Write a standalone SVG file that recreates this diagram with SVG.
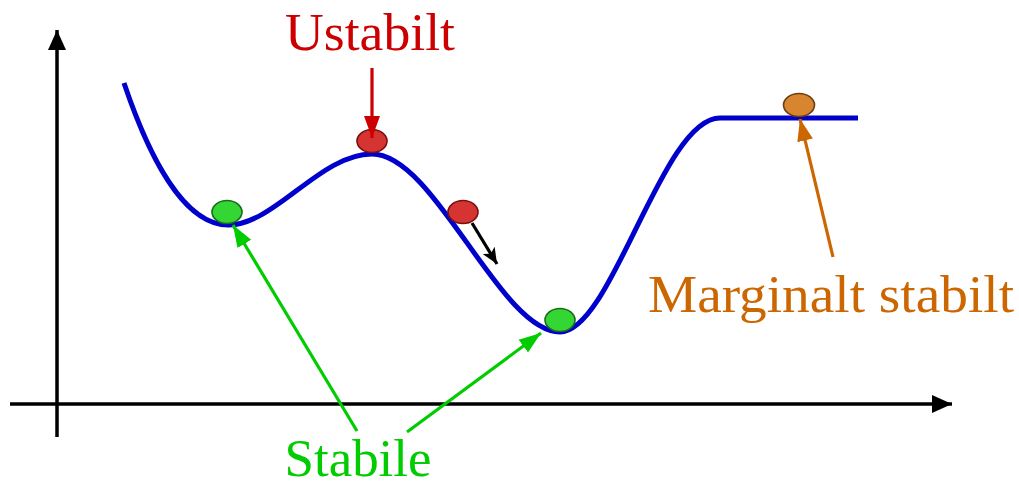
<svg xmlns="http://www.w3.org/2000/svg" width="1019" height="488" viewBox="0 0 1019 488">
<style>
.lbl{font-family:"Liberation Serif","Times New Roman",serif;font-size:53px;text-anchor:middle}
.ball{stroke-width:1.6}
</style>
<defs>
<marker id="ahK" viewBox="0 0 20 20" refX="20" refY="10" markerWidth="20" markerHeight="20" markerUnits="userSpaceOnUse" orient="auto"><path d="M0,1 L20,10 L0,19 Z" fill="#000"/></marker>
<marker id="ahS" viewBox="0 0 16 14" refX="16" refY="7" markerWidth="16" markerHeight="14" markerUnits="userSpaceOnUse" orient="auto"><path d="M0,0 L16,7 L0,14 L4,7 Z" fill="#000"/></marker>
<marker id="ahR" viewBox="0 0 22 18" refX="22" refY="9" markerWidth="22" markerHeight="18" markerUnits="userSpaceOnUse" orient="auto"><path d="M0,1 L22,9 L0,17 Z" fill="#cc0000"/></marker>
<marker id="ahG" viewBox="0 0 22 18" refX="22" refY="9" markerWidth="22" markerHeight="18" markerUnits="userSpaceOnUse" orient="auto"><path d="M0,1 L22,9 L0,17 Z" fill="#00cc00"/></marker>
<marker id="ahO" viewBox="0 0 22 18" refX="22" refY="9" markerWidth="22" markerHeight="18" markerUnits="userSpaceOnUse" orient="auto"><path d="M0,1 L22,9 L0,17 Z" fill="#cc6600"/></marker>
</defs>
<g id="axes" fill="none" stroke="#000" stroke-width="3.5">
<line x1="57" y1="437" x2="57" y2="30" marker-end="url(#ahK)"/>
<line x1="10" y1="404" x2="952" y2="404" marker-end="url(#ahK)"/>
</g>
<g id="curve">
<path d="M124,83 C150,160 185,225 228,225 C275,225 320,154 372,154 C435,154 500,332 560,332 C612,332 662,118 720,118 L858,118" fill="none" stroke="#0000cc" stroke-width="5"/>
</g>
<g id="balls">
<ellipse id="ball-green1" class="ball" cx="227" cy="212" rx="15" ry="11.5" fill="#33d633" stroke="#1a6b1a"/>
<ellipse id="ball-red-top" class="ball" cx="372" cy="141" rx="15" ry="11.5" fill="#d63333" stroke="#7a1010"/>
<ellipse id="ball-red-slope" class="ball" cx="463" cy="212" rx="15" ry="11.5" fill="#d63333" stroke="#7a1010"/>
<ellipse id="ball-green2" class="ball" cx="560" cy="320" rx="15" ry="11.5" fill="#33d633" stroke="#1a6b1a"/>
<ellipse id="ball-orange" class="ball" cx="799" cy="105" rx="15.5" ry="11.5" fill="#d88530" stroke="#6b3d10"/>
</g>
<g id="connectors" fill="none" stroke-width="3.2">
<line x1="472" y1="223" x2="497" y2="264" stroke="#000" marker-end="url(#ahS)"/>
<line x1="372" y1="68" x2="372" y2="138" stroke="#cc0000" marker-end="url(#ahR)"/>
<line x1="357" y1="431" x2="233" y2="225" stroke="#00cc00" marker-end="url(#ahG)"/>
<line x1="407" y1="432" x2="541" y2="333" stroke="#00cc00" marker-end="url(#ahG)"/>
<line x1="833" y1="257" x2="800" y2="119" stroke="#cc6600" marker-end="url(#ahO)"/>
</g>
<g id="labels">
<text id="t-ustabilt" class="lbl" x="370" y="50" fill="#cc0000" textLength="170" lengthAdjust="spacingAndGlyphs">Ustabilt</text>
<text id="t-stabile" class="lbl" x="358" y="476" fill="#00cc00" font-size="52" textLength="147" lengthAdjust="spacingAndGlyphs">Stabile</text>
<text id="t-marginalt" class="lbl" x="831" y="312" fill="#cc6600" textLength="366" lengthAdjust="spacingAndGlyphs">Marginalt stabilt</text>
</g>
</svg>
